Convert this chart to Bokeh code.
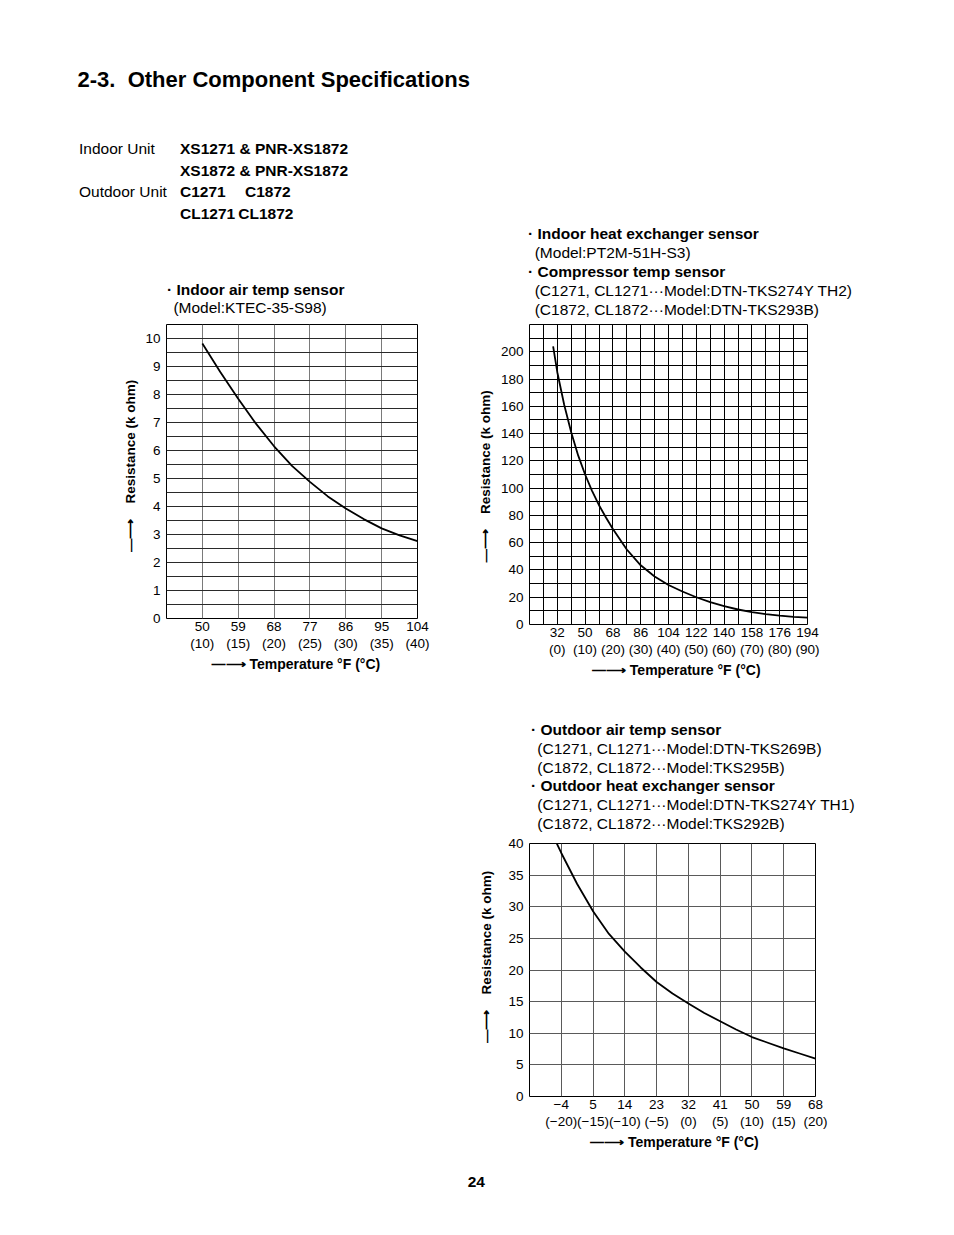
from bokeh.plotting import figure
from bokeh.models import FixedTicker, LinearAxis, Div, Spacer
from bokeh.layouts import column, row
from bokeh.embed import file_html
from bokeh.resources import INLINE

FONT = "Liberation Sans"
MINUS = "\u2212"
NB = "\u00a0"
ARROW = "\u2014\u27f6"

# ---------------- data ----------------
# Chart 1 : Indoor air temp sensor
c1_temp_c = [10, 12.5, 15, 17.5, 20, 22.5, 25, 27.5, 30, 32.5, 35, 37.5, 40]
c1_res_kohm = [9.82, 8.80, 7.85, 6.95, 6.15, 5.45, 4.88, 4.36, 3.93, 3.55, 3.22, 2.97, 2.76]
c1_tick_c = [10, 15, 20, 25, 30, 35, 40]
c1_tick_f = ["50", "59", "68", "77", "86", "95", "104"]
c1_tick_y = [0, 1, 2, 3, 4, 5, 6, 7, 8, 9, 10]

# Chart 2 : Indoor heat exchanger sensor / Compressor temp sensor
c2_temp_c = [-1.5, 0, 2.5, 5, 7.5, 10, 12.5, 15, 17.5, 20, 25, 30, 35, 40,
             45, 50, 55, 60, 65, 70, 75, 80, 85, 90]
c2_res_kohm = [204, 185, 161, 141, 124, 110, 98, 87.5, 78.5, 70, 55, 43.4, 35.2, 29,
               24.2, 20, 16.4, 13.4, 11, 9.1, 7.6, 6.5, 5.6, 5.0]
c2_tick_c = [0, 10, 20, 30, 40, 50, 60, 70, 80, 90]
c2_tick_f = ["32", "50", "68", "86", "104", "122", "140", "158", "176", "194"]
c2_tick_y = [0, 20, 40, 60, 80, 100, 120, 140, 160, 180, 200]

# Chart 3 : Outdoor air temp sensor / Outdoor heat exchanger sensor
c3_temp_c = [-20.8, -20, -17.5, -15, -12.5, -10, -7.5, -5, -2.5, 0, 2.5, 5,
             7.5, 10, 12.5, 15, 17.5, 20]
c3_res_kohm = [40.2, 38.5, 33.6, 29.3, 25.7, 22.9, 20.4, 18.1, 16.3, 14.7, 13.2, 11.9,
               10.6, 9.4, 8.5, 7.6, 6.8, 6.0]
c3_tick_c = [-20, -15, -10, -5, 0, 5, 10, 15, 20]
c3_tick_f = [MINUS + "4", "5", "14", "23", "32", "41", "50", "59", "68"]
c3_tick_y = [0, 5, 10, 15, 20, 25, 30, 35, 40]

X_TEXT = "Temperature \u00b0F (\u00b0C)"
Y_TEXT = "Resistance (k ohm)"


def c_label(c):
    return "(" + str(c).replace("-", MINUS) + ")"


def style_axis(ax, size="13.5px"):
    ax.axis_line_color = None
    ax.major_tick_line_color = None
    ax.minor_tick_line_color = None
    ax.major_tick_out = 0
    ax.major_tick_in = 0
    ax.minor_tick_out = 0
    ax.minor_tick_in = 0
    ax.major_label_text_font = FONT
    ax.major_label_text_font_size = size
    ax.major_label_text_color = "black"
    ax.axis_label_text_font = FONT
    ax.axis_label_text_font_style = "bold"
    ax.axis_label_text_color = "black"


def make_chart(temp, res, x_range, y_range, xticks, xminor, yticks, yminor,
               f_labels, fw, fh, mbl, mbr, mbt, mbb, ylab_standoff,
               gx, gy, xpad, ypad):
    p = figure(x_range=x_range, y_range=y_range, frame_width=fw, frame_height=fh,
               min_border_left=mbl, min_border_right=mbr, min_border_top=mbt,
               min_border_bottom=mbb, output_backend="svg", toolbar_location=None,
               margin=0)
    p.background_fill_color = "white"
    p.border_fill_color = "white"
    p.outline_line_color = "black"
    p.outline_line_width = 1

    xt = FixedTicker(ticks=xticks, minor_ticks=xminor)
    yt = FixedTicker(ticks=yticks, minor_ticks=yminor)
    p.xaxis.ticker = xt
    p.yaxis.ticker = yt
    p.xgrid.ticker = xt
    p.ygrid.ticker = yt
    p.xgrid.grid_line_color = gx
    p.ygrid.grid_line_color = gy
    p.xgrid.minor_grid_line_color = gx if xminor else None
    p.ygrid.minor_grid_line_color = gy if yminor else None
    for g in (p.xgrid, p.ygrid):
        g.grid_line_width = 1
        g.minor_grid_line_width = 1

    xa = p.xaxis[0]
    style_axis(xa)
    xa.major_label_overrides = {c: f for c, f in zip(xticks, f_labels)}
    xa.major_label_standoff = 3

    xa2 = LinearAxis(ticker=FixedTicker(ticks=xticks))
    style_axis(xa2)
    xa2.major_label_overrides = {c: c_label(c) for c in xticks}
    xa2.major_label_standoff = 2
    # leading padding, arrow, gap, title, trailing padding
    xa2.axis_label = NB * xpad[0] + ARROW + NB * xpad[1] + X_TEXT + NB * xpad[2]
    xa2.axis_label_text_font_size = "14px"
    xa2.axis_label_standoff = 2
    p.add_layout(xa2, "below")

    ya = p.yaxis[0]
    style_axis(ya)
    ya.major_label_standoff = 6
    ya.axis_label = NB * ypad[0] + ARROW + NB * ypad[1] + Y_TEXT + NB * ypad[2]
    ya.axis_label_text_font_size = "13.5px"
    ya.axis_label_standoff = ylab_standoff

    p.line(temp, res, line_color="black", line_width=1.8)
    return p


def text_div(items, w, h):
    parts = []
    for (x, y, txt, bold, size) in items:
        parts.append(
            '<div style="position:absolute;left:%spx;top:%spx;font-size:%spx;'
            'line-height:%spx;font-weight:%s;white-space:nowrap;">%s</div>'
            % (x, y, size, size, "bold" if bold else "normal", txt))
    html = ('<div style="position:relative;width:%dpx;height:%dpx;'
            "font-family:'Liberation Sans',Arial,sans-serif;color:#000;\">" % (w, h)
            + "".join(parts) + "</div>")
    return Div(text=html, width=w, height=h, margin=0)


# ---------------- figures ----------------
fig1 = make_chart(c1_temp_c, c1_res_kohm, (5, 40), (0, 10.5),
                  c1_tick_c, [], c1_tick_y, [v + 0.5 for v in c1_tick_y],
                  c1_tick_f, 251, 294, 158, 19, 4, 72, 4, "#7a7a7a", "#2a2a2a",
                  (2, 1, 0), (3, 4, 0))

fig2 = make_chart(c2_temp_c, c2_res_kohm, (-10, 90), (0, 220),
                  c2_tick_c, [t - 5 for t in c2_tick_c], c2_tick_y,
                  [v + 10 for v in c2_tick_y],
                  c2_tick_f, 278, 300, 93, 30, 4, 66, 5, "black", "black",
                  (4, 1, 0), (0, 4, 1))

fig3 = make_chart(c3_temp_c, c3_res_kohm, (-25, 20), (0, 40),
                  c3_tick_c, [], c3_tick_y, [],
                  c3_tick_f, 286, 253, 100, 30, 11, 66, 11, "#5a5a5a", "#5a5a5a",
                  (1, 1, 0), (7, 4, 0))

B = "\u00b7 "
DOTS = "\u00b7\u00b7\u00b7"
S = 15.5

header = text_div([
    (69.5, 61, "2-3.&nbsp; Other Component Specifications", True, 22),
    (71, 133, "Indoor Unit", False, S),
    (172, 133, "XS1271 &amp; PNR-XS1872", True, S),
    (172, 155, "XS1872 &amp; PNR-XS1872", True, S),
    (71, 176, "Outdoor Unit", False, S),
    (172, 176, "C1271", True, S),
    (237, 176, "C1872", True, S),
    (172, 197.5, "CL1271", True, S),
    (230.3, 197.5, "CL1872", True, S),
    # chart 1 heading
    (159, 273.8, B + "Indoor air temp sensor", True, S),
    (165.4, 291.8, "(Model:KTEC-35-S98)", False, S),
    # chart 2 heading
    (520, 217.8, B + "Indoor heat exchanger sensor", True, S),
    (526.7, 236.8, "(Model:PT2M-51H-S3)", False, S),
    (520, 256, B + "Compressor temp sensor", True, S),
    (526.7, 275, "(C1271, CL1271" + DOTS + "Model:DTN-TKS274Y TH2)", False, S),
    (526.7, 293.8, "(C1872, CL1872" + DOTS + "Model:DTN-TKS293B)", False, S),
], 938, 312)

div3 = text_div([
    (523, 31.5, B + "Outdoor air temp sensor", True, S),
    (529.3, 50.8, "(C1271, CL1271" + DOTS + "Model:DTN-TKS269B)", False, S),
    (529.3, 69.8, "(C1872, CL1872" + DOTS + "Model:TKS295B)", False, S),
    (523, 87.5, B + "Outdoor heat exchanger sensor", True, S),
    (529.3, 106.5, "(C1271, CL1271" + DOTS + "Model:DTN-TKS274Y TH1)", False, S),
    (529.3, 125.8, "(C1872, CL1872" + DOTS + "Model:TKS292B)", False, S),
], 938, 142)

footer = text_div([(459.7, 12.2, "24", True, S)], 938, 38)

row2 = row([fig1, fig2], spacing=0, margin=0)
row3 = row([Spacer(width=421, height=10, margin=0), fig3], spacing=0, margin=0)
inner = column([header, row2, div3, row3, footer], spacing=0, margin=0)
page = column([Spacer(width=10, height=8, margin=0),
               row([Spacer(width=8, height=10, margin=0), inner], spacing=0, margin=0)],
              spacing=0, margin=0)

open("out.html", "w").write(file_html(page, INLINE, "Other Component Specifications"))
